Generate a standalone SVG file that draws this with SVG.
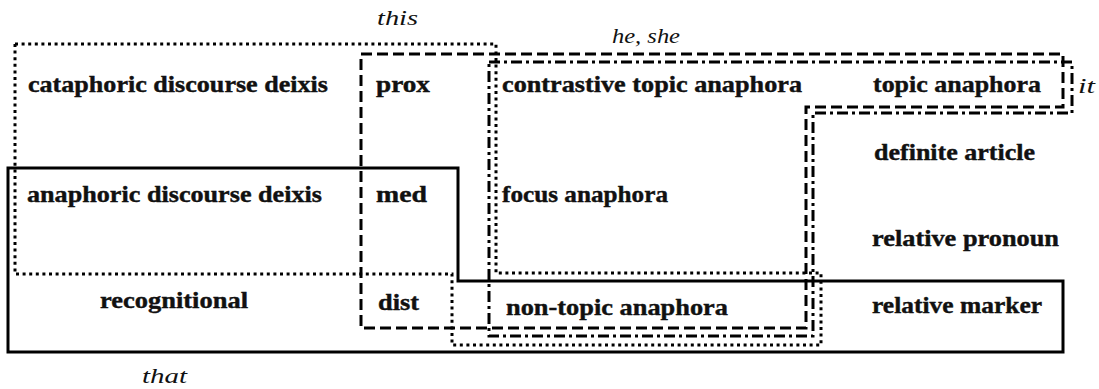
<svg xmlns="http://www.w3.org/2000/svg" width="1099" height="389" viewBox="0 0 1099 389">
  <style>
    .bg { fill: #ffffff; }
    .area { fill: none; stroke: #000; stroke-width: 3; stroke-linejoin: miter; }
    .solid { }
    .dotted { stroke-dasharray: 3 3.6; }
    .dashed { stroke-dasharray: 11 5; }
    .dashdot { stroke-dasharray: 11 4 3 4; }
    .fn { font-family: 'Liberation Serif', serif; font-weight: bold; font-size: 23px; fill: #111; stroke: #111; stroke-width: 0.4; }
    .lab { font-family: 'Liberation Serif', serif; font-style: italic; font-size: 20px; fill: #111; }
  </style>

  <rect class="bg" x="0" y="0" width="1099" height="389"/>

  <!-- boundaries of the forms on the map -->
  <g id="boundaries">
    <!-- this -->
    <polygon id="area-this" class="area dotted" points="15,44 496,44 496,273 821,273 821,345 452,345 452,274 15,274"/>
    <!-- he, she -->
    <polygon id="area-he-she" class="area dashed" points="361,54 1063,54 1063,107 806,107 806,328 361,328"/>
    <!-- it -->
    <polygon id="area-it" class="area dashdot" points="489,62 1072,62 1072,113 813,113 813,336 489,336"/>
    <!-- that -->
    <polygon id="area-that" class="area solid" points="8,168 458,168 458,281 1063,281 1063,352 8,352"/>
  </g>

  <!-- form labels -->
  <g id="form-labels">
    <text id="lab-this" class="lab" x="377" y="25" textLength="41" lengthAdjust="spacingAndGlyphs">this</text>
    <text id="lab-he-she" class="lab" x="612" y="43" textLength="68" lengthAdjust="spacingAndGlyphs">he, she</text>
    <text id="lab-it" class="lab" x="1078" y="93" textLength="17" lengthAdjust="spacingAndGlyphs">it</text>
    <text id="lab-that" class="lab" x="142" y="383" textLength="45" lengthAdjust="spacingAndGlyphs">that</text>
  </g>

  <!-- functions -->
  <g id="fn-cataphoric"><text class="fn" x="28" y="92" textLength="300" lengthAdjust="spacingAndGlyphs">cataphoric discourse deixis</text></g>
  <g id="fn-prox"><text class="fn" x="376" y="92" textLength="54" lengthAdjust="spacingAndGlyphs">prox</text></g>
  <g id="fn-contrastive-topic"><text class="fn" x="502" y="92" textLength="300" lengthAdjust="spacingAndGlyphs">contrastive topic anaphora</text></g>
  <g id="fn-topic"><text class="fn" x="873" y="92" textLength="168" lengthAdjust="spacingAndGlyphs">topic anaphora</text></g>
  <g id="fn-definite-article"><text class="fn" x="874" y="160" textLength="161" lengthAdjust="spacingAndGlyphs">definite article</text></g>
  <g id="fn-anaphoric"><text class="fn" x="27" y="202" textLength="295" lengthAdjust="spacingAndGlyphs">anaphoric discourse deixis</text></g>
  <g id="fn-med"><text class="fn" x="376" y="202" textLength="51" lengthAdjust="spacingAndGlyphs">med</text></g>
  <g id="fn-focus"><text class="fn" x="502" y="202" textLength="166" lengthAdjust="spacingAndGlyphs">focus anaphora</text></g>
  <g id="fn-relative-pronoun"><text class="fn" x="872" y="246" textLength="187" lengthAdjust="spacingAndGlyphs">relative pronoun</text></g>
  <g id="fn-recognitional"><text class="fn" x="100" y="308" textLength="148" lengthAdjust="spacingAndGlyphs">recognitional</text></g>
  <g id="fn-dist"><text class="fn" x="378" y="310" textLength="41" lengthAdjust="spacingAndGlyphs">dist</text></g>
  <g id="fn-non-topic"><text class="fn" x="506" y="315" textLength="222" lengthAdjust="spacingAndGlyphs">non-topic anaphora</text></g>
  <g id="fn-relative-marker"><text class="fn" x="872" y="313" textLength="170" lengthAdjust="spacingAndGlyphs">relative marker</text></g>
</svg>
